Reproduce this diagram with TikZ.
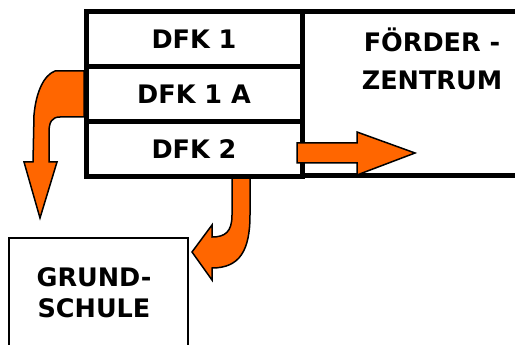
\documentclass[tikz,border=0pt]{standalone}
\usepackage{fontspec}
\setmainfont{DejaVu Sans}
\definecolor{arroworange}{HTML}{FF6600}
\begin{document}
\begin{tikzpicture}[x=1pt,y=-1pt,
  thickbox/.style={draw=black,line width=5pt,fill=white,inner sep=0pt,minimum width=216pt,minimum height=54.67pt},
  lbl/.style={font=\fontsize{25.5}{31}\selectfont\bfseries,align=center,inner sep=0pt},
  bigarrow/.style={draw=black,line width=1.5pt,fill=arroworange,line join=miter}]
\clip (0,0) rectangle (515,345);
% curved arrows behind the boxes
\path[bigarrow] (84,71) -- (55,71) .. controls (44,75) and (36,92) .. (34,115) -- (33,162)
  -- (24,162) -- (40,218) -- (57,162) -- (49,162) -- (49,132)
  .. controls (49,122) and (52,117) .. (60,117) -- (84,117) -- cycle;
\path[bigarrow] (232,174) -- (232,215) .. controls (232,232) and (225,237) .. (212,237)
  -- (212,225) -- (192,252) -- (212,280) -- (212,268)
  .. controls (240,268) and (250,250) .. (250,215) -- (250,174) -- cycle;
% boxes
\node (fz) [thickbox,minimum width=238pt,minimum height=164pt] at (421,94) {};
\node (dfk1) [thickbox] at (194,39.33) {};
\node (dfk1a) [thickbox] at (194,94) {};
\node (dfk2) [thickbox] at (194,148.67) {};
\node (gs) [draw=black,line width=2pt,fill=white,minimum width=179pt,minimum height=122pt,inner sep=0pt] at (98.5,299) {};
% texts
\node (t1) [lbl] at (dfk1) {DFK 1};
\node (t1a) [lbl] at (dfk1a) {DFK 1 A};
\node (t2) [lbl] at (dfk2) {DFK 2};
\node (tfz) [lbl,font=\fontsize{25.5}{38}\selectfont\bfseries] at (432,59) {FÖRDER -\\ZENTRUM};
\node (tgs) [lbl] at (94,292.5) {GRUND-\\SCHULE};
% straight arrow on top
\path[bigarrow] (297,143) -- (357,143) -- (357,132) -- (415,153) -- (357,175) -- (357,163) -- (297,163) -- cycle;
\end{tikzpicture}
\end{document}
